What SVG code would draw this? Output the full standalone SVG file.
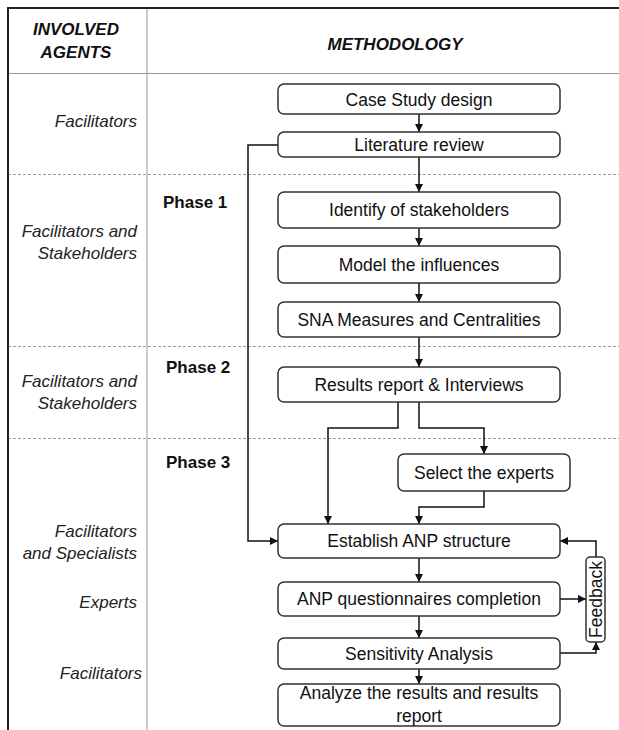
<svg xmlns="http://www.w3.org/2000/svg" width="619" height="730" viewBox="0 0 619 730">
<defs>
<marker id="arr" viewBox="0 0 10 10" refX="10" refY="5" markerWidth="8" markerHeight="8" markerUnits="userSpaceOnUse" orient="auto">
<path d="M0,0 L10,5 L0,10 z" fill="#111"/>
</marker>
<style>
.frame{stroke:#222;stroke-width:2;fill:none}
.grid{stroke:#999;stroke-width:1;fill:none}
.dash{stroke:#999;stroke-width:1;stroke-dasharray:3 2;fill:none}
.box{fill:#fff;stroke:#333;stroke-width:1.5}
.t{font-family:"Liberation Sans",Arial,sans-serif;font-size:17.5px;fill:#111;text-anchor:middle}
.agent{font-family:"Liberation Sans",Arial,sans-serif;font-size:17px;font-style:italic;fill:#222;text-anchor:end}
.head{font-family:"Liberation Sans",Arial,sans-serif;font-size:17px;font-style:italic;font-weight:bold;fill:#111;text-anchor:middle}
.phase{font-family:"Liberation Sans",Arial,sans-serif;font-size:17px;font-weight:bold;fill:#111}
.c{stroke:#111;stroke-width:1.5;fill:none}
.ca{stroke:#111;stroke-width:1.5;fill:none;marker-end:url(#arr)}
</style>
</defs>

<g id="table">
<line class="grid" x1="147" y1="8" x2="147" y2="730"/>
<line class="grid" x1="8" y1="73.5" x2="619" y2="73.5"/>
<line class="dash" x1="8" y1="174.5" x2="619" y2="174.5"/>
<line class="dash" x1="8" y1="346.5" x2="619" y2="346.5"/>
<line class="dash" x1="8" y1="438.5" x2="619" y2="438.5"/>
<polyline class="frame" points="8,730 8,8 619,8"/>
<text class="head" x="76" y="35">INVOLVED</text>
<text class="head" x="76" y="58">AGENTS</text>
<text class="head" x="395" y="50">METHODOLOGY</text>
</g>

<g id="agents">
<text class="agent" x="137" y="127">Facilitators</text>
<text class="agent" x="137" y="237">Facilitators and</text>
<text class="agent" x="137" y="259">Stakeholders</text>
<text class="agent" x="137" y="387">Facilitators and</text>
<text class="agent" x="137" y="409">Stakeholders</text>
<text class="agent" x="137" y="537">Facilitators</text>
<text class="agent" x="137" y="559">and Specialists</text>
<text class="agent" x="137" y="608">Experts</text>
<text class="agent" x="142" y="679">Facilitators</text>
</g>

<g id="phases">
<text class="phase" x="163" y="208">Phase 1</text>
<text class="phase" x="166" y="373">Phase 2</text>
<text class="phase" x="166" y="468">Phase 3</text>
</g>

<g id="connectors">
<line class="ca" x1="419" y1="114" x2="419" y2="132"/>
<line class="ca" x1="419" y1="157" x2="419" y2="192"/>
<line class="ca" x1="419" y1="228" x2="419" y2="246"/>
<line class="ca" x1="419" y1="283" x2="419" y2="302"/>
<line class="ca" x1="419" y1="337" x2="419" y2="367"/>
<polyline class="ca" points="398,402 398,428 328,428 328,524"/>
<polyline class="ca" points="419,402 419,428 484,428 484,454"/>
<polyline class="ca" points="484,491 484,507 419,507 419,524"/>
<polyline class="ca" points="278,145 248,145 248,541 278,541"/>
<line class="ca" x1="419" y1="558" x2="419" y2="582"/>
<line class="ca" x1="419" y1="616" x2="419" y2="638"/>
<line class="ca" x1="419" y1="669" x2="419" y2="684"/>
<line class="ca" x1="560" y1="599" x2="586" y2="599"/>
<polyline class="ca" points="560,653 596,653 596,642"/>
<polyline class="ca" points="596,557 596,541 560,541"/>
</g>

<g id="n-case">
<rect class="box" x="278" y="84" width="282" height="30" rx="6"/>
<text class="t" x="419" y="105.5">Case Study design</text>
</g>
<g id="n-lit">
<rect class="box" x="278" y="132" width="282" height="25" rx="6"/>
<text class="t" x="419" y="151">Literature review</text>
</g>
<g id="n-identify">
<rect class="box" x="278" y="192" width="282" height="36" rx="6"/>
<text class="t" x="419" y="216">Identify of stakeholders</text>
</g>
<g id="n-model">
<rect class="box" x="278" y="246" width="282" height="37" rx="6"/>
<text class="t" x="419" y="270.5">Model the influences</text>
</g>
<g id="n-sna">
<rect class="box" x="278" y="302" width="282" height="35" rx="6"/>
<text class="t" x="419" y="325.5">SNA Measures and Centralities</text>
</g>
<g id="n-results">
<rect class="box" x="278" y="367" width="282" height="35" rx="6"/>
<text class="t" x="419" y="390.5">Results report &amp; Interviews</text>
</g>
<g id="n-select">
<rect class="box" x="398" y="454" width="172" height="37" rx="6"/>
<text class="t" x="484" y="478.5">Select the experts</text>
</g>
<g id="n-establish">
<rect class="box" x="278" y="524" width="282" height="34" rx="6"/>
<text class="t" x="419" y="547">Establish ANP structure</text>
</g>
<g id="n-anp">
<rect class="box" x="278" y="582" width="282" height="34" rx="6"/>
<text class="t" x="419" y="605">ANP questionnaires completion</text>
</g>
<g id="n-sens">
<rect class="box" x="278" y="638" width="282" height="31" rx="6"/>
<text class="t" x="419" y="659.5">Sensitivity Analysis</text>
</g>
<g id="n-analyze">
<rect class="box" x="278" y="684" width="282" height="42" rx="6"/>
<text class="t" x="419" y="699">Analyze the results and results</text>
<text class="t" x="419" y="722">report</text>
</g>
<g id="n-feedback">
<rect class="box" x="586" y="557" width="19" height="85" rx="4"/>
<text class="t" x="602" y="599.5" transform="rotate(-90 602 599.5)">Feedback</text>
</g>
</svg>
